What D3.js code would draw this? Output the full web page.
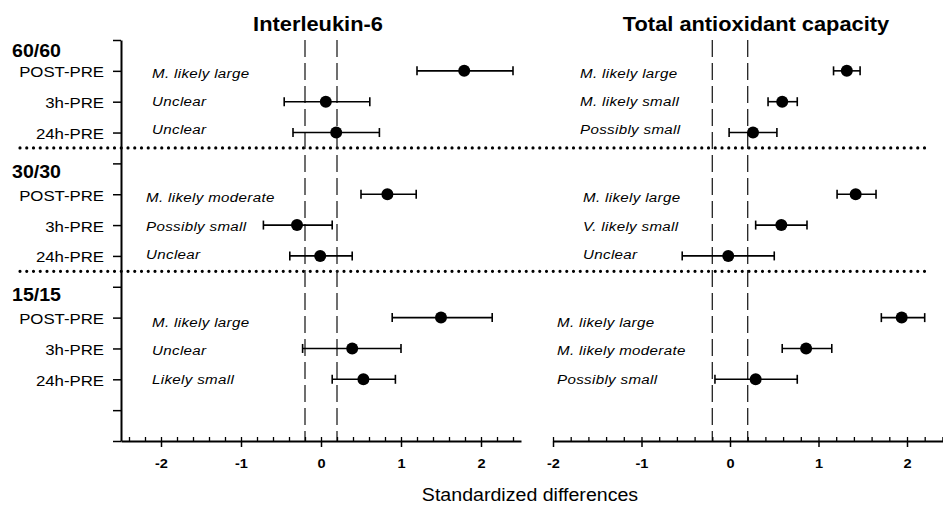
<!DOCTYPE html>
<html>
<head>
<meta charset="utf-8">
<script src="https://cdn.jsdelivr.net/npm/d3@7/dist/d3.min.js"></script>
<style>
  html, body { margin: 0; padding: 0; background: #fff; }
  svg { display: block; font-family: "Liberation Sans", Arial, sans-serif; }
</style>
</head>
<body>
<svg id="chart" width="943" height="511"></svg>
<script>
// ---------------- data ----------------
const groups = ["60/60", "30/30", "15/15"];
const comparisons = ["POST-PRE", "3h-PRE", "24h-PRE"];
const panelTitles = ["Interleukin-6", "Total antioxidant capacity"];
const xTickValues = [-2, -1, 0, 1, 2];
const xAxisTitle = "Standardized differences";

// rows ordered: 60/60 (POST,3h,24h), 30/30 (...), 15/15 (...)
const il6Mean  = [1.79, 0.06, 0.19, 0.83, -0.30, -0.01, 1.50, 0.39, 0.53];
const il6Lower = [1.20, -0.46, -0.35, 0.50, -0.72, -0.39, 0.89, -0.23, 0.14];
const il6Upper = [2.40, 0.61, 0.73, 1.19, 0.14, 0.39, 2.14, 1.00, 0.93];
const il6Labels = ["M. likely large", "Unclear", "Unclear",
                   "M. likely moderate", "Possibly small", "Unclear",
                   "M. likely large", "Unclear", "Likely small"];

const tacMean  = [1.32, 0.59, 0.26, 1.42, 0.58, -0.02, 1.94, 0.86, 0.29];
const tacLower = [1.17, 0.43, -0.01, 1.21, 0.29, -0.54, 1.71, 0.59, -0.17];
const tacUpper = [1.47, 0.76, 0.53, 1.65, 0.87, 0.50, 2.20, 1.15, 0.76];
const tacLabels = ["M. likely large", "M. likely small", "Possibly small",
                   "M. likely large", "V. likely small", "Unclear",
                   "M. likely large", "M. likely moderate", "Possibly small"];

const trivialBand = [-0.2, 0.2];

// ---------------- layout ----------------
const K = 1.12; // horizontal text stretch of the original figure
const svg = d3.select("#chart");
const y = d3.scaleLinear().domain([0, 13]).range([40, 441]);
const rowIndex = (g, c) => 1 + 4 * g + c;

const panels = [
  { x: d3.scaleLinear().domain([-2.5, 2.5]).range([121, 521]),
    mean: il6Mean, lower: il6Lower, upper: il6Upper, labels: il6Labels,
    title: panelTitles[0], titleX: 318, labelX: [152, 146, 152], yAxis: true,
    minor: d3.range(-24, 25, 2).map(v => v / 10) },
  { x: d3.scaleLinear().domain([-2, 2.5]).range([553, 951.25]),
    mean: tacMean, lower: tacLower, upper: tacUpper, labels: tacLabels,
    title: panelTitles[1], titleX: 756, labelX: [580, 583, 557], yAxis: false,
    minor: d3.range(-20, 25, 2).map(v => v / 10) }
];
const labelBaseline = (g, c) => 77.7 + g * 124.7 + c * 28.3;

function txt(sel, x, yy, s, o) {
  return sel.append("text")
    .attr("transform", `translate(${x},${yy}) scale(${K},1)`)
    .attr("text-anchor", o.anchor || "start")
    .attr("font-size", o.size)
    .attr("font-weight", o.weight || "normal")
    .attr("font-style", o.style || "normal")
    .attr("letter-spacing", o.ls || 0)
    .attr("fill", "#000")
    .text(s);
}

// separators (dotted)
[3.5, 7.5].forEach(v => {
  svg.append("line")
    .attr("x1", 20).attr("x2", 926)
    .attr("y1", y(v)).attr("y2", y(v))
    .attr("stroke", "#000").attr("stroke-width", 3.2)
    .attr("stroke-linecap", "round")
    .attr("stroke-dasharray", "0,6.75");
});

panels.forEach(p => {
  const g = svg.append("g");
  // dashed trivial lines
  trivialBand.forEach(v => {
    g.append("line")
      .attr("x1", p.x(v)).attr("x2", p.x(v))
      .attr("y1", y(0)).attr("y2", y(13))
      .attr("stroke", "#222").attr("stroke-width", 1.3)
      .attr("stroke-dasharray", "17,6");
  });

  // x axis: minor ticks upward
  g.append("g").attr("transform", `translate(0,${y(13)})`)
    .call(d3.axisBottom(p.x).tickValues(p.minor).tickSizeInner(-4).tickSizeOuter(0).tickFormat(""))
    .call(a => a.select(".domain").remove())
    .selectAll("line").attr("stroke", "#000").attr("stroke-width", 1.3);

  // x axis: major ticks downward
  const ax = g.append("g").attr("transform", `translate(0,${y(13)})`)
    .call(d3.axisBottom(p.x).tickValues(xTickValues).tickSizeInner(6).tickSizeOuter(0).tickFormat(d3.format("d")));
  ax.select(".domain").attr("stroke", "#000").attr("stroke-width", 2);
  ax.selectAll(".tick line").attr("stroke", "#000").attr("stroke-width", 1.5);
  ax.selectAll(".tick text")
    .attr("y", 27.5).attr("dy", 0)
    .attr("transform", `scale(${K},1)`)
    .attr("font-size", 13).attr("font-weight", "bold")
    .attr("font-family", "Liberation Sans, Arial, sans-serif")
    .attr("fill", "#000")
    .text(d => d < 0 ? "-" + Math.abs(d) : d);

  // y axis (left panel only)
  if (p.yAxis) {
    const ay = g.append("g").attr("transform", `translate(${p.x.range()[0]},0)`)
      .call(d3.axisLeft(y).tickValues(d3.range(0, 14)).tickSizeInner(8).tickSizeOuter(0).tickFormat(""));
    ay.select(".domain").attr("stroke", "#000").attr("stroke-width", 2);
    ay.selectAll(".tick line").attr("stroke", "#000").attr("stroke-width", 1.5);
  }

  // title
  txt(g, p.titleX, 31, p.title, { size: 19.5, weight: "bold", anchor: "middle" });

  // error bars + points
  const rows = d3.range(p.mean.length);
  const rowY = i => y(rowIndex(Math.floor(i / 3), i % 3));
  const cap = 4.5;
  const eb = g.append("g").attr("stroke", "#000").attr("stroke-width", 1.6);
  rows.forEach(i => {
    eb.append("line").attr("x1", p.x(p.lower[i])).attr("x2", p.x(p.upper[i]))
      .attr("y1", rowY(i)).attr("y2", rowY(i));
    [p.lower[i], p.upper[i]].forEach(v => {
      eb.append("line").attr("x1", p.x(v)).attr("x2", p.x(v))
        .attr("y1", rowY(i) - cap).attr("y2", rowY(i) + cap);
    });
  });
  g.selectAll("circle.pt").data(rows).join("circle")
    .attr("class", "pt")
    .attr("cx", i => p.x(p.mean[i])).attr("cy", rowY)
    .attr("r", 6).attr("fill", "#000");

  // qualitative inference labels
  rows.forEach(i => {
    const gi = Math.floor(i / 3), ci = i % 3;
    txt(g, p.labelX[gi], labelBaseline(gi, ci), p.labels[i], { size: 13.5, style: "italic", ls: 0.3 });
  });
});

// group and comparison labels
const groupBaselines = [57, 177.5, 301];
groups.forEach((gName, gi) => {
  txt(svg, 12, groupBaselines[gi], gName, { size: 17.5, weight: "bold" });
  comparisons.forEach((c, ci) => {
    txt(svg, 104, y(rowIndex(gi, ci)) + 6.5, c, { size: 15, anchor: "end" });
  });
});

// x-axis title
txt(svg, 530, 501, xAxisTitle, { size: 17.5, anchor: "middle" });
</script>
</body>
</html>
